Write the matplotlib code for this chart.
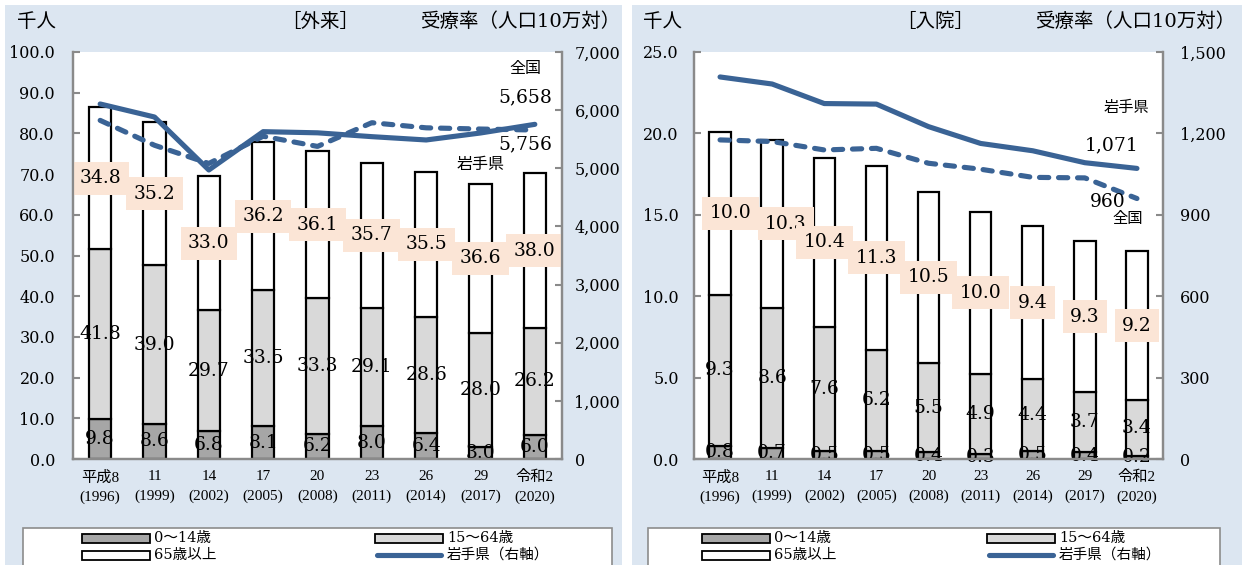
import matplotlib
matplotlib.use('Agg')
import matplotlib.pyplot as plt
from matplotlib.patches import Rectangle
from matplotlib.lines import Line2D
from matplotlib.ticker import FuncFormatter
import numpy as np

# ---------------- data ----------------
years_top = ['平成8', '11', '14', '17', '20', '23', '26', '29', '令和2']
years_bot = ['(1996)', '(1999)', '(2002)', '(2005)', '(2008)', '(2011)', '(2014)', '(2017)', '(2020)']

out_0_14 = [9.8, 8.6, 6.8, 8.1, 6.2, 8.0, 6.4, 3.0, 6.0]
out_15_64 = [41.8, 39.0, 29.7, 33.5, 33.3, 29.1, 28.6, 28.0, 26.2]
out_65 = [34.8, 35.2, 33.0, 36.2, 36.1, 35.7, 35.5, 36.6, 38.0]
out_iwate = [6106, 5882, 4971, 5630, 5610, 5544, 5487, 5607, 5756]
out_nation = [5824, 5396, 5083, 5551, 5376, 5784, 5696, 5675, 5658]

in_0_14 = [0.8, 0.7, 0.5, 0.5, 0.4, 0.3, 0.5, 0.4, 0.2]
in_15_64 = [9.3, 8.6, 7.6, 6.2, 5.5, 4.9, 4.4, 3.7, 3.4]
in_65 = [10.0, 10.3, 10.4, 11.3, 10.5, 10.0, 9.4, 9.3, 9.2]
in_iwate = [1408, 1382, 1310, 1308, 1225, 1163, 1136, 1092, 1071]
in_nation = [1176, 1170, 1139, 1145, 1090, 1068, 1038, 1036, 960]

legend_labels = ['0～14歳', '15～64歳', '65歳以上', '岩手県（右軸）']

# ---------------- style ----------------
W, H = 1242, 565
BG = '#dce6f1'
BLUE = '#3a6395'
GREY_SPINE = '#8a8a8a'
PEACH = '#fbe5d6'
C014 = '#a6a6a6'
C1564 = '#d9d9d9'
NUM = ['DejaVu Serif', 'Noto Sans CJK JP']
XL = ['Liberation Serif', 'Noto Sans CJK JP']
CJK = ['Noto Sans CJK JP', 'DejaVu Serif']

plt.rcParams['font.family'] = NUM


def fx(p):
    return p / W


def fy(p):
    return 1 - p / H


fig = plt.figure(figsize=(W / 100, H / 100), dpi=100, facecolor='white')

# panel backgrounds
fig.add_artist(Rectangle((fx(5), 0), (622 - 5) / W, (565 - 5) / H, transform=fig.transFigure,
                         fc=BG, ec='none', zorder=-5))
fig.add_artist(Rectangle((fx(632), 0), (1242 - 632) / W, (565 - 5) / H, transform=fig.transFigure,
                         fc=BG, ec='none', zorder=-5))


def panel(x0, x1, d0, d1, d2, iwate, nation, ymax, ystep, y2max, y2step,
          lpad, rpad, title_parts, annots, legend_box, leg_cols, box_shift=None):
    ax = fig.add_axes([fx(x0), fy(459), (x1 - x0) / W, (459 - 52) / H])
    ax.set_facecolor('white')
    x = np.arange(len(d0))
    w = 0.41
    d0a, d1a, d2a = np.array(d0), np.array(d1), np.array(d2)
    b1 = ax.bar(x, d0a, w, color=C014, edgecolor='black', linewidth=1.6, zorder=2)
    b2 = ax.bar(x, d1a, w, bottom=d0a, color=C1564, edgecolor='black', linewidth=1.6, zorder=2)
    b3 = ax.bar(x, d2a, w, bottom=d0a + d1a, color='white', edgecolor='black', linewidth=1.6, zorder=2)
    ax.bar_label(b1, labels=[f'{v:.1f}' for v in d0], label_type='center', fontsize=13.5,
                 fontfamily=NUM, zorder=5, clip_on=False)
    ax.bar_label(b2, labels=[f'{v:.1f}' for v in d1], label_type='center', fontsize=13.5,
                 fontfamily=NUM, zorder=5)
    anns = ax.bar_label(b3, labels=[f'{v:.1f}' for v in d2], label_type='center', fontsize=13.5,
                        fontfamily=NUM, zorder=6,
                        bbox=dict(boxstyle='square,pad=0.4', fc=PEACH, ec='none'))
    if box_shift:
        for i, dx in box_shift.items():
            anns[i].xyann = (dx, 0)
    ax.set_xlim(-0.5, len(d0) - 0.5)
    ax.set_ylim(0, ymax)
    ax.set_yticks(np.arange(0, ymax + 0.001, ystep))
    ax.yaxis.set_major_formatter(FuncFormatter(lambda v, p: f'{v:.1f}'))
    ax.set_xticks(x)
    ax.set_xticklabels([f'{a}\n{b}' for a, b in zip(years_top, years_bot)],
                       fontfamily=XL, fontsize=11, linespacing=1.6)
    ax.tick_params(axis='x', length=0, pad=8)
    ax.tick_params(axis='y', direction='in', length=5, width=1.5, color=GREY_SPINE,
                   pad=lpad, labelsize=11.5)

    ax2 = ax.twinx()
    ax2.plot(x, iwate, color=BLUE, lw=3.7, solid_capstyle='round', solid_joinstyle='round', zorder=3)
    ax2.plot(x, nation, color=BLUE, lw=3.7, linestyle=(0, (1.8, 1.9)), dash_capstyle='round', zorder=3)
    ax2.set_ylim(0, y2max)
    ax2.set_yticks(np.arange(0, y2max + 1, y2step))
    ax2.yaxis.set_major_formatter(FuncFormatter(lambda v, p: f'{v:,.0f}'))
    ax2.tick_params(axis='y', direction='in', length=5, width=1.5, color=GREY_SPINE,
                    pad=rpad, labelsize=11.5)

    for a in (ax, ax2):
        a.spines['top'].set_visible(False)
        for s in ('left', 'right', 'bottom'):
            a.spines[s].set_color(GREY_SPINE)
            a.spines[s].set_linewidth(1.6)

    # headers
    for (px, txt, fs, ha) in title_parts:
        fig.text(fx(px), fy(22), txt, fontsize=fs, ha=ha, va='center', fontfamily=NUM)
    # annotations
    for (px, py, txt, fs, fam) in annots:
        fig.text(fx(px), fy(py), txt, fontsize=fs, ha='center', va='center', fontfamily=fam)

    # legend
    lx0, lx1 = legend_box
    fig.add_artist(Rectangle((fx(lx0), fy(575)), (lx1 - lx0) / W, (575 - 528) / H,
                             transform=fig.transFigure, fc='white', ec='#8c8c8c', lw=1.2, zorder=1))
    c1, c2 = leg_cols
    rows = [538, 555]
    items = [(c1, rows[0], 'patch', C014, legend_labels[0]),
             (c2, rows[0], 'patch', C1564, legend_labels[1]),
             (c1, rows[1], 'patch', 'white', legend_labels[2]),
             (c2, rows[1], 'line', BLUE, legend_labels[3])]
    for (cx, ry, kind, col, lab) in items:
        if kind == 'patch':
            fig.add_artist(Rectangle((fx(cx), fy(ry + 4.5)), 68 / W, 9 / H, transform=fig.transFigure,
                                     fc=col, ec='black', lw=1.3, zorder=2))
        else:
            fig.add_artist(Line2D([fx(cx + 2), fx(cx + 66)], [fy(ry), fy(ry)], transform=fig.transFigure,
                                  color=col, lw=3.7, solid_capstyle='round', zorder=2))
        fig.text(fx(cx + 72), fy(ry), lab, fontsize=10.5, ha='left', va='center',
                 fontfamily=NUM, zorder=3)
    return ax, ax2


panel(73, 562, out_0_14, out_15_64, out_65, out_iwate, out_nation, 100, 10, 7000, 1000,
      13, 9,
      [(37, '千人', 14, 'center'), (320, '［外来］', 14, 'center'), (620, '受療率（人口10万対）', 14, 'right')],
      [(525, 69, '全国', 11.5, CJK), (525, 97, '5,658', 13.5, NUM),
       (525, 144, '5,756', 13.5, NUM), (481, 165, '岩手県', 11.5, CJK)],
      (23, 612), (82, 375))

panel(694, 1163, in_0_14, in_15_64, in_65, in_iwate, in_nation, 25, 5, 1500, 300,
      11, 12,
      [(662, '千人', 14, 'center'), (935, '［入院］', 14, 'center'), (1235, '受療率（人口10万対）', 14, 'right')],
      [(1126, 108, '岩手県', 11, CJK), (1112, 145, '1,071', 13.5, NUM),
       (1108, 202, '960', 13.5, NUM), (1128, 219, '全国', 11, CJK)],
      (648, 1220), (702, 987), box_shift={0: 7.5, 1: 10})

fig.savefig('out.png', dpi=100, facecolor='white')
